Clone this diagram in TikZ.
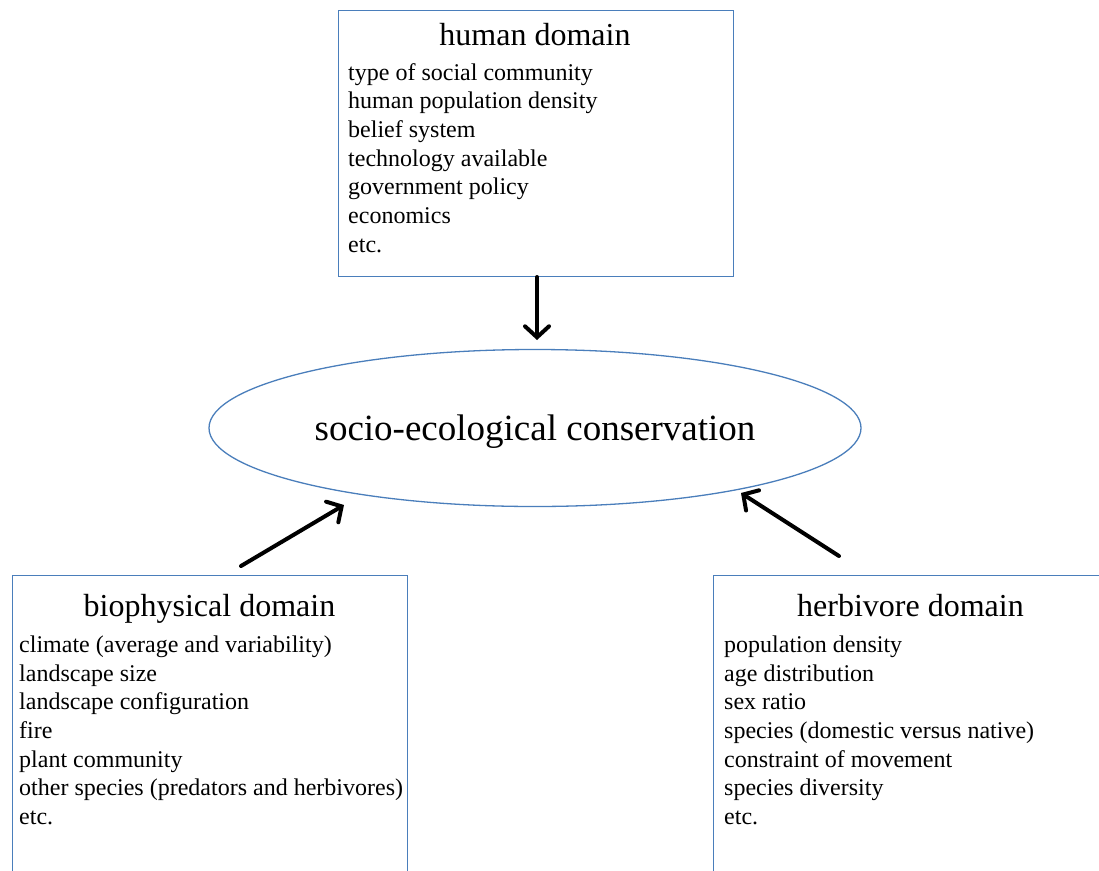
\documentclass[tikz,border=0pt]{standalone}
\usepackage{fontspec}
\setmainfont{Liberation Serif}
\usetikzlibrary{arrows.meta,shapes.geometric}
\definecolor{boxblue}{HTML}{4A7EBB}
\begin{document}
\begin{tikzpicture}[x=1pt,y=-1pt,
  domainbox/.style={draw=boxblue, line width=1.3pt, rectangle, inner sep=0pt, anchor=north west},
  titletext/.style={font=\fontsize{32}{38}\selectfont, inner sep=0pt, anchor=base},
  bodytext/.style={font=\fontsize{24}{28.7}\selectfont, inner sep=0pt, anchor=base west},
  arr/.style={line width=4pt, -{Straight Barb[length=11pt,width=24pt,line cap=round]}, line cap=round}]
\useasboundingbox (0,0) rectangle (1099,870);
\clip (0,0) rectangle (1099,870);
% boxes
\node[domainbox, minimum width=395pt, minimum height=266pt] (human) at (337.5,9.5) {};
\node[domainbox, minimum width=395pt, minimum height=400pt] (bio) at (12,575) {};
\node[domainbox, minimum width=420pt, minimum height=400pt] (herb) at (713,574.5) {};
% ellipse
\node[ellipse, draw=boxblue, line width=1.3pt, minimum width=652pt, minimum height=157pt, inner sep=0pt] (sec) at (535,428) {};
\node[font=\fontsize{37}{44}\selectfont, inner sep=0pt, anchor=base] (seclabel) at (535,440) {socio-ecological conservation};
% titles
\node[titletext] (humantitle) at (535,45) {human domain};
\node[titletext] (biotitle) at (209.5,616) {biophysical domain};
\node[titletext] (herbtitle) at (910.5,616) {herbivore domain};
% body lines
\foreach \t [count=\i from 0] in {type of social community, human population density, belief system, technology available, government policy, economics, etc.}
  \node[bodytext] (h\i) at (348,80+28.67*\i) {\t};
\foreach \t [count=\i from 0] in {climate (average and variability), landscape size, landscape configuration, fire, plant community, other species (predators and herbivores), etc.}
  \node[bodytext] (b\i) at (19,652.5+28.67*\i) {\t};
\foreach \t [count=\i from 0] in {population density, age distribution, sex ratio, species (domestic versus native), constraint of movement, species diversity, etc.}
  \node[bodytext] (v\i) at (724,652.5+28.67*\i) {\t};
% arrows
\coordinate (a1s) at (537,277);
\coordinate (a1e) at (537,340);
\coordinate (a2s) at (241,566);
\coordinate (a2e) at (344,505);
\coordinate (a3s) at (839,556);
\coordinate (a3e) at (741,493);
\draw[arr] (a1s) -- (a1e);
\draw[arr] (a2s) -- (a2e);
\draw[arr] (a3s) -- (a3e);
\end{tikzpicture}
\end{document}
